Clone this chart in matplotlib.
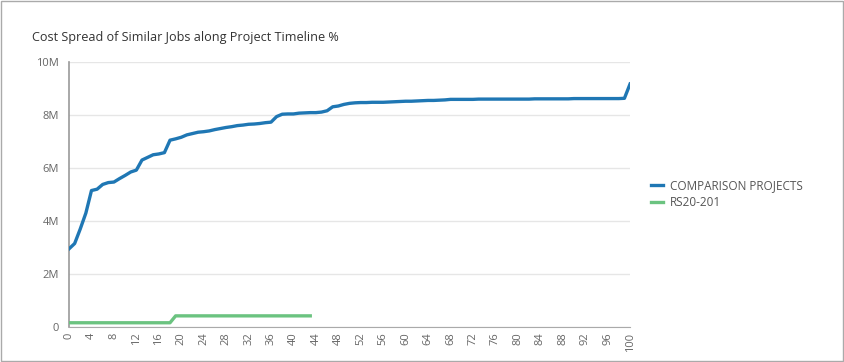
import matplotlib
matplotlib.use("Agg")
import matplotlib.pyplot as plt
from matplotlib.patches import Rectangle
from matplotlib.ticker import FuncFormatter, MultipleLocator

plt.rcParams['font.family'] = ['Open Sans', 'DejaVu Sans']

title = "Cost Spread of Similar Jobs along Project Timeline %"
series_names = ["COMPARISON PROJECTS", "RS20-201"]

comparison_x = list(range(0, 101))
comparison_m = [
    2.95, 3.15, 3.70, 4.30, 5.15, 5.20, 5.38, 5.45, 5.47, 5.60,
    5.72, 5.85, 5.92, 6.30, 6.40, 6.50, 6.53, 6.58, 7.05, 7.10,
    7.16, 7.25, 7.30, 7.35, 7.37, 7.40, 7.45, 7.49, 7.53, 7.56,
    7.60, 7.62, 7.65, 7.66, 7.68, 7.71, 7.73, 7.94, 8.03, 8.04,
    8.04, 8.07, 8.08, 8.09, 8.09, 8.11, 8.16, 8.31, 8.34, 8.40,
    8.44, 8.46, 8.47, 8.47, 8.48, 8.48, 8.48, 8.49, 8.50, 8.51,
    8.52, 8.52, 8.53, 8.54, 8.55, 8.55, 8.56, 8.57, 8.59, 8.59,
    8.59, 8.59, 8.59, 8.60, 8.60, 8.60, 8.60, 8.60, 8.60, 8.60,
    8.60, 8.60, 8.60, 8.61, 8.61, 8.61, 8.61, 8.61, 8.61, 8.61,
    8.62, 8.62, 8.62, 8.62, 8.62, 8.62, 8.62, 8.62, 8.62, 8.63,
    9.17,
]

rs_x = list(range(0, 44))
rs_m = [0.16] * 19 + [0.42] * 25

y_ticks_m = [0, 2, 4, 6, 8, 10]

fig = plt.figure(figsize=(8.45, 3.62), dpi=100)
ax = fig.add_axes([0.0817, 0.0967, 0.6639, 0.732])

blue = "#1F77B4"
green = "#6BC380"
ax.plot(comparison_x, [v * 1e6 for v in comparison_m], color=blue, lw=2.4,
        solid_joinstyle='round', label=series_names[0], zorder=3)
ax.plot(rs_x, [v * 1e6 for v in rs_m], color=green, lw=2.4,
        solid_joinstyle='round', label=series_names[1], zorder=3)

ax.set_xlim(0, 100)
ax.set_ylim(0, 10e6)
ax.set_yticks([t * 1e6 for t in y_ticks_m])
ax.yaxis.set_major_formatter(FuncFormatter(lambda v, p: "0" if v == 0 else f"{int(round(v / 1e6))}M"))
ax.xaxis.set_major_locator(MultipleLocator(4))
ax.tick_params(axis='both', length=0, colors="#666666", labelsize=8)
ax.tick_params(axis='x', labelrotation=90, pad=4)
ax.tick_params(axis='y', pad=7)
ax.grid(axis='y', color="#E6E6E6", lw=1)
ax.set_axisbelow(True)
for s in ["top", "right"]:
    ax.spines[s].set_visible(False)
ax.spines["left"].set_color("#999999")
ax.spines["bottom"].set_color("#AAAAAA")
ax.spines["left"].set_linewidth(1.2)

fig.text(32 / 845, 1 - 38 / 362, title, fontsize=9.1, color="#333333", va='center', ha='left')

leg = fig.legend(loc='center left', bbox_to_anchor=(651 / 845, 1 - 194 / 362), frameon=False,
                 fontsize=8.5, handlelength=1.0, handletextpad=0.6, labelspacing=0.35,
                 borderaxespad=0, borderpad=0)
for t in leg.get_texts():
    t.set_color("#555555")

fig.add_artist(Rectangle((0.001, 0.003), 0.997, 0.994, transform=fig.transFigure,
                         fill=False, edgecolor="#AAAAAA", lw=1))

fig.savefig("out.png", dpi=100)
